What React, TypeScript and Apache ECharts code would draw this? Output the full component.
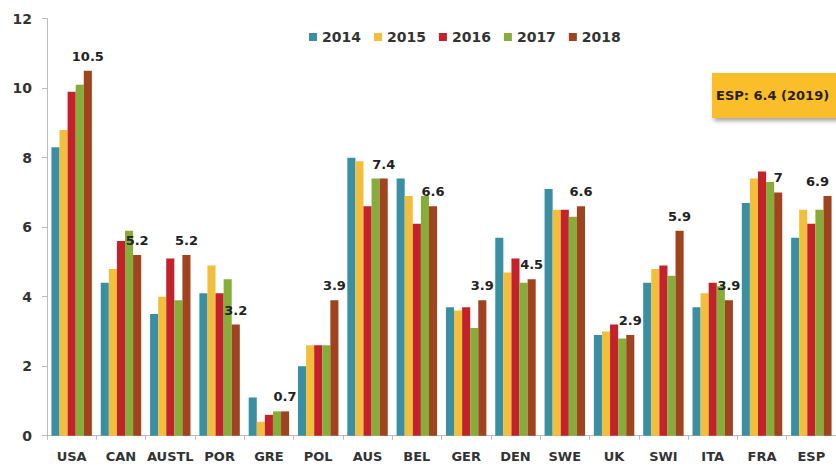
import React, { useEffect, useRef } from "react";
import * as echarts from "echarts";

const categories = ["USA", "CAN", "AUSTL", "POR", "GRE", "POL", "AUS", "BEL", "GER", "DEN", "SWE", "UK", "SWI", "ITA", "FRA", "ESP"];
const years = ["2014", "2015", "2016", "2017", "2018"];
const v2014 = [8.3, 4.4, 3.5, 4.1, 1.1, 2.0, 8.0, 7.4, 3.7, 5.7, 7.1, 2.9, 4.4, 3.7, 6.7, 5.7];
const v2015 = [8.8, 4.8, 4.0, 4.9, 0.4, 2.6, 7.9, 6.9, 3.6, 4.7, 6.5, 3.0, 4.8, 4.1, 7.4, 6.5];
const v2016 = [9.9, 5.6, 5.1, 4.1, 0.6, 2.6, 6.6, 6.1, 3.7, 5.1, 6.5, 3.2, 4.9, 4.4, 7.6, 6.1];
const v2017 = [10.1, 5.9, 3.9, 4.5, 0.7, 2.6, 7.4, 6.9, 3.1, 4.4, 6.3, 2.8, 4.6, 4.3, 7.3, 6.5];
const v2018 = [10.5, 5.2, 5.2, 3.2, 0.7, 3.9, 7.4, 6.6, 3.9, 4.5, 6.6, 2.9, 5.9, 3.9, 7.0, 6.9];
const yTicks = [0, 2, 4, 6, 8, 10, 12];
const annotation = "ESP: 6.4 (2019)";

const colors = ["#3A8FA3", "#F2BF3C", "#C4222B", "#86AD3A", "#A0431F"];

export default function App() {
  const ref = useRef<HTMLDivElement>(null);
  useEffect(() => {
    if (!ref.current) return;
    const chart = echarts.init(ref.current, null, { renderer: "svg" });
    const all = [v2014, v2015, v2016, v2017, v2018];
    const font = "'DejaVu Sans', sans-serif";
    const lastIdx = categories.length - 1;
    chart.setOption({
      animation: false,
      color: colors,
      textStyle: { fontFamily: font },
      legend: {
        top: 25,
        left: 304,
        itemWidth: 8,
        itemHeight: 8,
        itemGap: 13,
        icon: "rect",
        textStyle: { fontSize: 14, fontWeight: "bold", color: "#333", fontFamily: font },
        data: years,
      },
      grid: { left: 47, right: -5, top: 18.7, bottom: 32.3, containLabel: false },
      xAxis: {
        type: "category",
        data: categories,
        axisLine: { lineStyle: { color: "#bbb" } },
        axisTick: { show: true, length: 4, lineStyle: { color: "#bbb" } },
        axisLabel: { fontSize: 13, fontWeight: "bold", color: "#333", margin: 14, fontFamily: font, interval: 0 },
      },
      yAxis: {
        type: "value",
        min: yTicks[0],
        max: yTicks[yTicks.length - 1],
        interval: 2,
        splitLine: { show: false },
        axisLine: { show: true, lineStyle: { color: "#bbb" } },
        axisTick: { show: true, length: 5, lineStyle: { color: "#bbb" } },
        axisLabel: { fontSize: 14, fontWeight: "bold", color: "#333", margin: 15, fontFamily: font },
      },
      series: years.map((y, i) => ({
        name: y,
        type: "bar",
        data: i === 4
          ? all[i].map((v, j) => (j === lastIdx ? { value: v, label: { offset: [-10, 0] } } : v))
          : all[i],
        barGap: "0%",
        barCategoryGap: "18%",
        label: i === 4
          ? { show: true, position: "top", distance: 8, fontSize: 13, fontWeight: "bold", color: "#222", fontFamily: font }
          : { show: false },
      })),
      graphic: [
        {
          type: "group",
          left: 712,
          top: 73,
          children: [
            {
              type: "rect",
              shape: { x: 0, y: 0, width: 140, height: 45 },
              style: { fill: "#F9BE2C", shadowBlur: 4, shadowOffsetX: 2, shadowOffsetY: 3, shadowColor: "rgba(0,0,0,0.35)" },
            },
            {
              type: "text",
              x: 4,
              y: 22.5,
              style: { text: annotation, fill: "#2a2000", font: "bold 13px 'DejaVu Sans', sans-serif", verticalAlign: "middle" },
            },
          ],
        },
      ],
    });
    return () => chart.dispose();
  }, []);
  return <div ref={ref} style={{ width: 836, height: 468, position: "absolute", left: 0, top: 0 }} />;
}
